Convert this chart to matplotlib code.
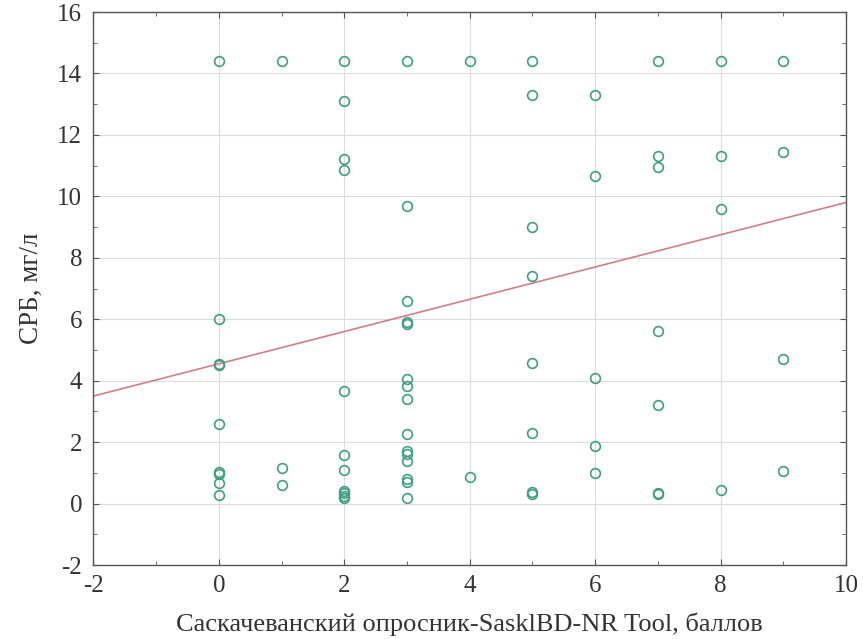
"""Scatter of CRP vs SaskIBD-NR score with linear fit."""

import matplotlib

matplotlib.use("Agg")
import matplotlib.pyplot as plt
import numpy as np
from matplotlib.ticker import MultipleLocator

plt.rcParams["font.family"] = ["Liberation Serif", "DejaVu Serif"]
plt.rcParams["axes.unicode_minus"] = False

# баллы опросника (x) и СРБ, мг/л (y)
score = [
    0, 0, 0, 0, 0, 0, 0, 0, 0,
    1, 1, 1,
    2, 2, 2, 2, 2, 2, 2, 2, 2, 2, 2,
    3, 3, 3, 3, 3, 3, 3, 3, 3, 3, 3, 3, 3, 3, 3,
    4, 4,
    5, 5, 5, 5, 5, 5, 5, 5,
    6, 6, 6, 6, 6,
    7, 7, 7, 7, 7, 7, 7,
    8, 8, 8, 8,
    9, 9, 9, 9,
]
crp = [
    14.4, 6.0, 4.55, 4.5, 2.6, 1.02, 0.95, 0.67, 0.28,
    14.4, 1.17, 0.59,
    14.4, 13.1, 11.2, 10.85, 3.65, 1.58, 1.1, 0.4, 0.33, 0.25, 0.17,
    14.4, 9.7, 6.6, 5.9, 5.85, 4.05, 3.82, 3.4, 2.27, 1.72, 1.62, 1.37, 0.8, 0.7, 0.18,
    14.4, 0.86,
    14.4, 13.3, 9.0, 7.4, 4.57, 2.31, 0.37, 0.32,
    13.3, 10.65, 4.1, 1.88, 1.0,
    14.4, 11.3, 10.95, 5.62, 3.21, 0.36, 0.32,
    14.4, 11.3, 9.6, 0.43,
    14.4, 11.45, 4.7, 1.06,
]

# линия регрессии
fit_intercept = 4.55
fit_slope = 0.525

x_ticks = [-2, 0, 2, 4, 6, 8, 10]
y_ticks = [-2, 0, 2, 4, 6, 8, 10, 12, 14, 16]

fig = plt.figure(figsize=(8.63, 6.39), dpi=100)
ax = fig.add_axes([0.1083, 0.1158, 0.872, 0.8654])

ax.grid(True, color="#dcdcdc", linewidth=0.8)
ax.set_axisbelow(True)

fx = np.array([x_ticks[0], x_ticks[-1]])
ax.plot(fx, fit_intercept + fit_slope * fx, color="#cf7f86", linewidth=1.2, zorder=2)
ax.plot(score, crp, linestyle="none", marker="o", markersize=7,
        markerfacecolor="none", markeredgecolor="#3f9f80", markeredgewidth=1.2, zorder=3)

ax.set_xlim(x_ticks[0], x_ticks[-1])
ax.set_ylim(y_ticks[0], y_ticks[-1])
ax.set_xticks(x_ticks)
ax.set_yticks(y_ticks)
ax.xaxis.set_minor_locator(MultipleLocator(1))
ax.yaxis.set_minor_locator(MultipleLocator(1))
ax.tick_params(which="both", direction="in", top=True, right=True,
               color="#555555", labelsize=18, labelcolor="#333333")
ax.tick_params(which="major", length=4)
ax.tick_params(which="minor", length=3)
ax.tick_params(axis="x", pad=7)
ax.tick_params(axis="y", pad=8)
for s in ax.spines.values():
    s.set_color("#555555")
    s.set_linewidth(1.0)

ax.set_xlabel("Саскачеванский опросник-SasklBD-NR Tool, баллов",
              fontsize=19, color="#333333", labelpad=11)
ax.set_ylabel("СРБ, мг/л", fontsize=19.5, color="#333333", labelpad=10)

fig.savefig("out.png", dpi=100)
plt.close(fig)
